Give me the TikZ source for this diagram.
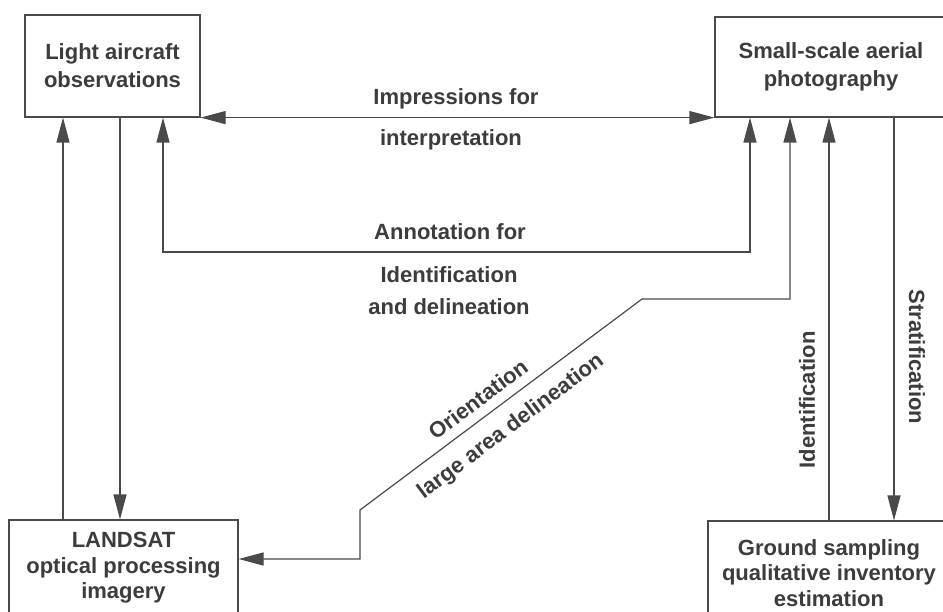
\documentclass[tikz,border=0pt]{standalone}
\usepackage{fontspec}
\setmainfont{Liberation Sans}
\usetikzlibrary{arrows.meta}
\definecolor{ink}{HTML}{4A4A4A}
\definecolor{txt}{HTML}{3C3C3C}
\begin{document}
\begin{tikzpicture}[x=1pt,y=-1pt,
  >={Triangle[length=25pt,width=13pt]},
  box/.style={draw=ink, line width=1.2pt, align=center, inner sep=0pt, text=txt,
    font=\bfseries\fontsize{22}{28}\selectfont},
  lowbox/.style={font=\bfseries\fontsize{22}{25.5}\selectfont},
  lab/.style={text=txt, inner sep=0pt, font=\bfseries\fontsize{22}{26}\selectfont},
  conn/.style={draw=ink, line width=1.2pt}]
\useasboundingbox (0,0) rectangle (943,612);
\clip (0,0) rectangle (943,612);
\fill[white] (0,0) rectangle (943,612);
% boxes
\node[box, minimum width=175pt, minimum height=102pt] (light) at (112.5,66) {Light aircraft\\observations};
\node[box, minimum width=232pt, minimum height=100pt] (photo) at (831,67) {Small-scale aerial\\photography};
\node[box, lowbox, minimum width=229pt, minimum height=96pt] (landsat) at (123.5,568) {LANDSAT\\optical processing\\imagery};
\node[box, lowbox, minimum width=242pt, minimum height=104pt] (ground) at (829,573) {Ground sampling\\qualitative inventory\\estimation};
% helper coordinates
\coordinate (c1) at (63,300);
\coordinate (c2) at (120,300);
\coordinate (a1) at (163,252);
\coordinate (a2) at (750,252);
\coordinate (o1) at (790,299);
\coordinate (o2) at (642,299);
\coordinate (o3) at (360,510);
\coordinate (o4) at (360,559);
\coordinate (i1) at (829,400);
\coordinate (s1) at (894,400);
% connectors
\draw[conn,<->] (light.south east) -- (photo.south west);
\draw[conn,->] (c1 |- landsat.north) -- (c1 |- light.south);
\draw[conn,->] (c2 |- light.south) -- (c2 |- landsat.north);
\draw[conn,<->] (a1 |- light.south) -- (a1) -- (a2) -- (a2 |- photo.south);
\draw[conn,<->] (o1 |- photo.south) -- (o1) -- (o2) -- (o3) -- (o4) -- (o4 -| landsat.east);
\draw[conn,->] (i1 |- ground.north) -- (i1 |- photo.south);
\draw[conn,->] (s1 |- photo.south) -- (s1 |- ground.north);
% labels
\node[lab] (imp1) at (456,99) {Impressions for};
\node[lab] (imp2) at (451,140) {interpretation};
\node[lab] (ann1) at (450,232) {Annotation for};
\node[lab] (ann2) at (449,275) {Identification};
\node[lab] (ann3) at (449,307) {and delineation};
\node[lab, rotate=36.8] (ori) at (478,399) {Orientation};
\node[lab, rotate=36.8] (lad) at (511,427) {large area delineation};
\node[lab, rotate=90] (idl) at (807,400) {Identification};
\node[lab, rotate=-90] (str) at (917,357) {Stratification};
\end{tikzpicture}
\end{document}
